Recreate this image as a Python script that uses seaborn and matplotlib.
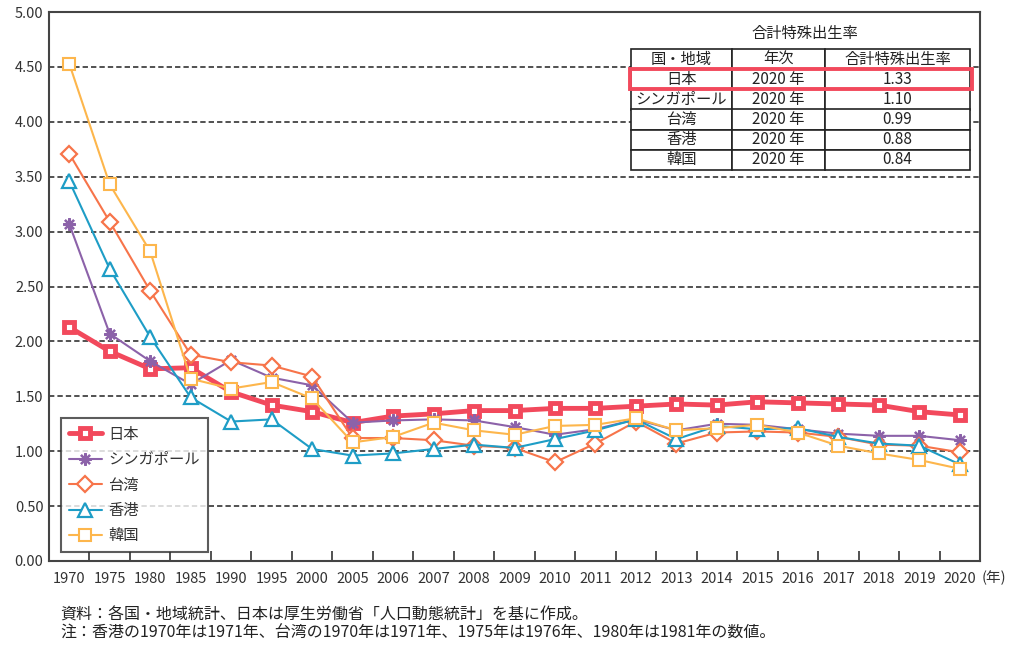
import matplotlib
matplotlib.use("Agg")
import matplotlib.pyplot as plt
import matplotlib.patches as mpatches
import seaborn as sns
import pandas as pd
import numpy as np

years = ["1970", "1975", "1980", "1985", "1990", "1995", "2000", "2005", "2006", "2007",
         "2008", "2009", "2010", "2011", "2012", "2013", "2014", "2015", "2016", "2017",
         "2018", "2019", "2020"]

japan = [2.13, 1.91, 1.75, 1.76, 1.54, 1.42, 1.36, 1.26, 1.32, 1.34, 1.37, 1.37, 1.39,
         1.39, 1.41, 1.43, 1.42, 1.45, 1.44, 1.43, 1.42, 1.36, 1.33]
singapore = [3.07, 2.07, 1.82, 1.61, 1.83, 1.67, 1.60, 1.26, 1.28, 1.29, 1.28, 1.22, 1.15,
             1.20, 1.29, 1.19, 1.25, 1.24, 1.20, 1.16, 1.14, 1.14, 1.10]
taiwan = [3.71, 3.09, 2.46, 1.88, 1.81, 1.78, 1.68, 1.12, 1.12, 1.10, 1.05, 1.03, 0.90,
          1.07, 1.27, 1.07, 1.17, 1.18, 1.17, 1.13, 1.06, 1.05, 0.99]
hongkong = [3.46, 2.66, 2.04, 1.49, 1.27, 1.29, 1.02, 0.96, 0.98, 1.02, 1.06, 1.03, 1.11,
            1.19, 1.29, 1.11, 1.23, 1.20, 1.21, 1.13, 1.07, 1.05, 0.88]
korea = [4.53, 3.43, 2.82, 1.66, 1.57, 1.63, 1.48, 1.08, 1.13, 1.26, 1.19, 1.15, 1.23,
         1.24, 1.30, 1.19, 1.21, 1.24, 1.17, 1.05, 0.98, 0.92, 0.84]

names = ["日本", "シンガポール", "台湾", "香港", "韓国"]
table_cols = ["国・地域", "年次", "合計特殊出生率"]
table_years = ["2020 年"] * 5
table_vals = ["1.33", "1.10", "0.99", "0.88", "0.84"]
yticks = [0.0, 0.5, 1.0, 1.5, 2.0, 2.5, 3.0, 3.5, 4.0, 4.5, 5.0]

sns.set_theme(style="white")
plt.rcParams['font.family'] = ['Noto Sans CJK JP', 'DejaVu Sans']

W, H = 1009, 646
fig = plt.figure(figsize=(W / 100, H / 100), dpi=100)
ax = fig.add_axes([49 / W, 1 - 561 / H, (980 - 49) / W, (561 - 12) / H])

series = [japan, singapore, taiwan, hongkong, korea]
colors = ["#F2495C", "#8C62A9", "#F7744A", "#1E9DC6", "#FDB64C"]
markers = ["s", (8, 2, 0), "D", "^", "s"]
msizes = [7.5, 9, 8, 10, 9]
mews = [3.5, 1.6, 1.6, 1.6, 1.5]
lws = [3.5, 1.5, 1.5, 1.5, 1.5]
faces = ["white", "#8C62A9", "white", "white", "white"]

xpos = np.arange(len(years))
for i, (vals, name) in enumerate(zip(series, names)):
    df = pd.DataFrame({"x": xpos, "y": vals})
    sns.lineplot(data=df, x="x", y="y", ax=ax, color=colors[i], lw=lws[i],
                 marker=markers[i], markersize=msizes[i], markeredgewidth=mews[i],
                 markerfacecolor=faces[i], markeredgecolor=colors[i],
                 label=name, zorder=3 + i)

ax.set_xlim(-0.5, len(years) - 0.5)
ax.set_ylim(0, 5)
ax.set_xlabel("")
ax.set_ylabel("")
ax.set_xticks(xpos)
ax.set_xticklabels(years, fontsize=10.5, color="#333333")
ax.set_xticks(np.arange(0.5, len(years) - 1, 1.0), minor=True)
ax.tick_params(axis="x", which="major", length=0, pad=8)
ax.tick_params(axis="x", which="minor", length=7, width=1.2, direction="in",
               color="#333333", bottom=True)
ax.set_yticks(yticks)
ax.set_yticklabels([f"{v:.2f}" for v in yticks], fontsize=10.5, color="#333333")
ax.tick_params(axis="y", length=0, pad=4)

for v in yticks[1:-1]:
    ax.axhline(v, color="#222222", lw=1.1, ls=(0, (3.5, 2)), zorder=1)

for s in ax.spines.values():
    s.set_visible(True)
    s.set_color("#444444")
    s.set_linewidth(1.5)

fig.text(982 / W, 1 - 578 / H, "(年)", fontsize=10.5, color="#333333",
         ha="left", va="center")

leg = ax.legend(loc="lower left", bbox_to_anchor=(61 / W, 1 - 552 / H),
                bbox_transform=fig.transFigure, borderaxespad=0, fancybox=False,
                frameon=True, fontsize=11, handlelength=2.2, labelspacing=0.55,
                borderpad=0.5, handletextpad=0.4)
leg.get_frame().set_edgecolor("#333333")
leg.get_frame().set_linewidth(1.5)
for t in leg.get_texts():
    t.set_color("#333333")

# table
cell_text = [[n, y, v] for n, y, v in zip(names, table_years, table_vals)]
tx0, ty0 = (631 - 49) / 931, (561 - 170) / 549
tw, th = (970 - 631) / 931, 121 / 549
tbl = ax.table(cellText=cell_text, colLabels=table_cols, cellLoc="center",
               colWidths=[0.298, 0.274, 0.428], bbox=[tx0, ty0, tw, th], zorder=10)
tbl.auto_set_font_size(False)
for (r, c), cell in tbl.get_celld().items():
    cell.set_linewidth(1.2)
    cell.set_edgecolor("#222222")
    cell.set_facecolor("white")
    cell.get_text().set_fontsize(11)
    cell.get_text().set_color("#222222")

fig.text(805 / W, 1 - 33 / H, "合計特殊出生率", fontsize=11, color="#222222",
         ha="center", va="center")
fig.add_artist(mpatches.Rectangle((630 / W, 1 - 89 / H), 342 / W, 20 / H,
                                  fill=False, edgecolor="#F2495C", lw=2.8,
                                  transform=fig.transFigure, zorder=20))

fig.text(60 / W, 1 - 615 / H, "資料：各国・地域統計、日本は厚生労働省「人口動態統計」を基に作成。",
         fontsize=11.5, color="#222222", ha="left", va="center")
fig.text(60 / W, 1 - 633 / H,
         "注：香港の1970年は1971年、台湾の1970年は1971年、1975年は1976年、1980年は1981年の数値。",
         fontsize=11.5, color="#222222", ha="left", va="center")

fig.savefig("out.png", dpi=100)
